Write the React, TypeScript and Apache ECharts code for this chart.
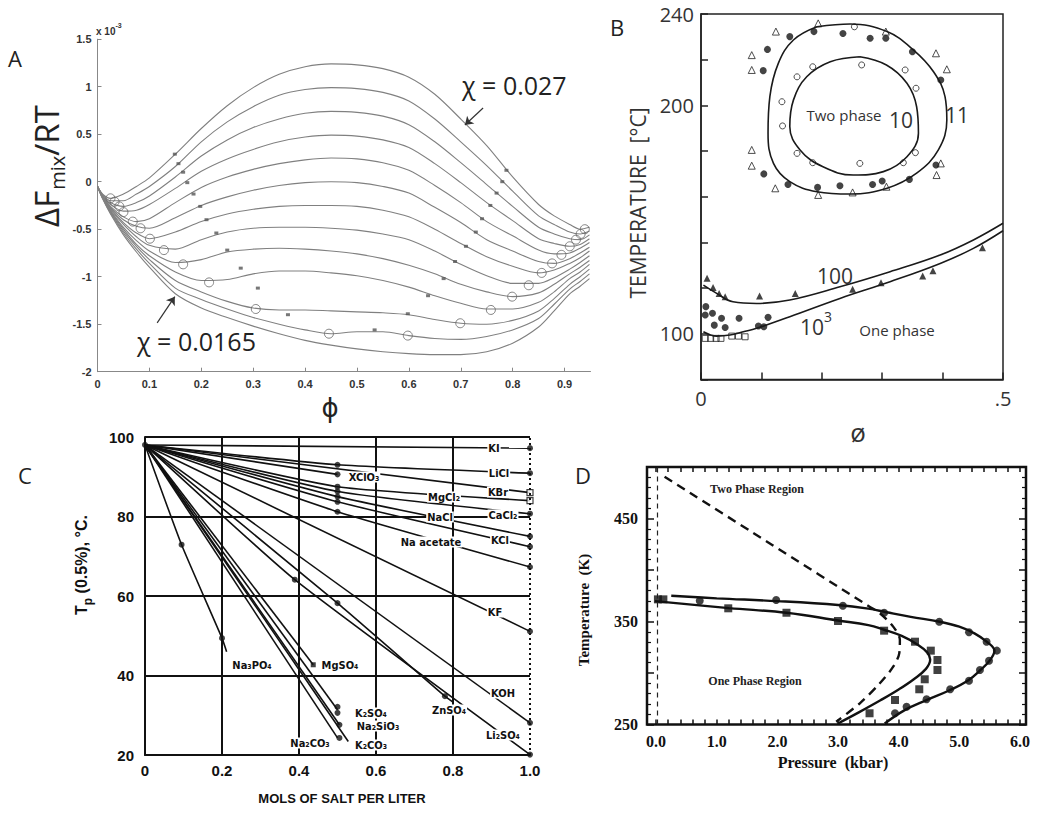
import React, { useEffect, useRef } from 'react';
import * as echarts from 'echarts';

// ================= Panel A : free energy of mixing curves =================
const A_PHI = [0, 0.01, 0.025, 0.05, 0.075, 0.1, 0.15, 0.2, 0.25, 0.3, 0.35, 0.4, 0.45, 0.5, 0.55, 0.6, 0.65, 0.7, 0.75, 0.8, 0.85, 0.88, 0.91, 0.93, 0.948];
const A_F00 = [-0.05, -0.13, -0.175, -0.13, -0.05, 0.04, 0.29, 0.56, 0.80, 0.99, 1.13, 1.21, 1.24, 1.23, 1.19, 1.10, 0.92, 0.66, 0.38, 0.05, -0.24, -0.36, -0.45, -0.50, -0.48]; // chi = 0.027
const A_F01 = [-0.05, -0.14, -0.20, -0.20, -0.13, -0.05, 0.16, 0.42, 0.63, 0.79, 0.91, 0.97, 0.99, 0.98, 0.94, 0.85, 0.66, 0.42, 0.17, -0.10, -0.36, -0.45, -0.53, -0.55, -0.52];
const A_F02 = [-0.05, -0.14, -0.22, -0.26, -0.22, -0.15, 0.05, 0.27, 0.44, 0.57, 0.66, 0.72, 0.74, 0.73, 0.69, 0.60, 0.42, 0.20, -0.03, -0.26, -0.48, -0.55, -0.60, -0.61, -0.56];
const A_F03 = [-0.05, -0.15, -0.24, -0.31, -0.30, -0.24, -0.07, 0.11, 0.24, 0.34, 0.42, 0.47, 0.49, 0.48, 0.44, 0.36, 0.19, -0.01, -0.22, -0.41, -0.60, -0.65, -0.68, -0.66, -0.60];
const A_F04 = [-0.05, -0.15, -0.26, -0.37, -0.42, -0.39, -0.22, -0.06, 0.05, 0.13, 0.19, 0.23, 0.25, 0.24, 0.20, 0.12, -0.04, -0.22, -0.42, -0.57, -0.72, -0.76, -0.75, -0.70, -0.64];
const A_F05 = [-0.05, -0.16, -0.27, -0.40, -0.47, -0.49, -0.38, -0.25, -0.16, -0.09, -0.04, -0.01, 0.0, -0.01, -0.05, -0.12, -0.27, -0.43, -0.61, -0.73, -0.84, -0.86, -0.81, -0.75, -0.69];
const A_F06 = [-0.05, -0.16, -0.28, -0.43, -0.54, -0.60, -0.53, -0.42, -0.34, -0.29, -0.26, -0.25, -0.25, -0.26, -0.30, -0.37, -0.50, -0.65, -0.79, -0.89, -0.96, -0.93, -0.86, -0.80, -0.73];
const A_F07 = [-0.05, -0.16, -0.29, -0.45, -0.58, -0.67, -0.71, -0.61, -0.53, -0.49, -0.48, -0.48, -0.49, -0.51, -0.55, -0.61, -0.73, -0.87, -0.99, -1.07, -1.07, -1.01, -0.92, -0.85, -0.78];
const A_F08 = [-0.05, -0.17, -0.30, -0.48, -0.62, -0.73, -0.85, -0.82, -0.74, -0.71, -0.70, -0.71, -0.73, -0.76, -0.81, -0.88, -0.97, -1.08, -1.16, -1.21, -1.17, -1.08, -0.97, -0.90, -0.83];
const A_F09 = [-0.05, -0.17, -0.31, -0.50, -0.66, -0.78, -0.95, -1.04, -1.03, -0.97, -0.94, -0.94, -0.96, -0.99, -1.04, -1.11, -1.20, -1.28, -1.34, -1.34, -1.27, -1.16, -1.02, -0.95, -0.87];
const A_F10 = [-0.05, -0.17, -0.32, -0.52, -0.68, -0.82, -1.04, -1.16, -1.26, -1.33, -1.35, -1.35, -1.36, -1.37, -1.38, -1.40, -1.45, -1.49, -1.50, -1.46, -1.36, -1.23, -1.08, -1.00, -0.92];
const A_F11 = [-0.05, -0.18, -0.33, -0.54, -0.71, -0.86, -1.12, -1.24, -1.34, -1.43, -1.50, -1.56, -1.60, -1.58, -1.58, -1.62, -1.65, -1.66, -1.63, -1.56, -1.44, -1.29, -1.13, -1.05, -0.97];
const A_F12 = [-0.05, -0.18, -0.34, -0.56, -0.74, -0.90, -1.18, -1.33, -1.43, -1.52, -1.60, -1.67, -1.72, -1.76, -1.79, -1.81, -1.82, -1.82, -1.79, -1.70, -1.53, -1.36, -1.18, -1.10, -1.02]; // chi = 0.0165
const A_CURVES = [A_F00, A_F01, A_F02, A_F03, A_F04, A_F05, A_F06, A_F07, A_F08, A_F09, A_F10, A_F11, A_F12];
const A_BIN_PHI = [0.025, 0.033, 0.042, 0.05, 0.068, 0.083, 0.101, 0.128, 0.165, 0.215, 0.305, 0.446, 0.939, 0.931, 0.922, 0.910, 0.894, 0.876, 0.856, 0.831, 0.799, 0.758, 0.699, 0.598];
const A_BIN_F = [-0.175, -0.21, -0.26, -0.32, -0.42, -0.49, -0.60, -0.72, -0.87, -1.06, -1.34, -1.60, -0.50, -0.55, -0.61, -0.68, -0.77, -0.86, -0.96, -1.09, -1.21, -1.35, -1.49, -1.62];
const A_SPI_PHI = [0.149, 0.156, 0.165, 0.173, 0.185, 0.198, 0.21, 0.229, 0.25, 0.276, 0.309, 0.367, 0.788, 0.78, 0.769, 0.757, 0.741, 0.729, 0.71, 0.689, 0.667, 0.637, 0.598, 0.534];
const A_SPI_F = [0.29, 0.19, 0.10, -0.01, -0.13, -0.26, -0.40, -0.54, -0.72, -0.91, -1.12, -1.40, 0.12, 0.0, -0.12, -0.25, -0.39, -0.53, -0.68, -0.84, -1.02, -1.20, -1.39, -1.56];
const A_X_TICKS = [0, 0.1, 0.2, 0.3, 0.4, 0.5, 0.6, 0.7, 0.8, 0.9];

// ================= Panel B : closed loop phase diagram =================
const B_OUT_PHI = [0.192, 0.247, 0.308, 0.352, 0.385, 0.404, 0.407, 0.393, 0.357, 0.308, 0.247, 0.192, 0.147, 0.12, 0.111, 0.114, 0.128, 0.153, 0.192];
const B_OUT_T = [234.4, 235.6, 232.3, 224.2, 214.7, 203.8, 193.6, 180.5, 170.3, 163.7, 161.2, 162.2, 166.6, 174.6, 187.8, 203.8, 218.4, 228.6, 234.4];
const B_IN_PHI = [0.263, 0.214, 0.175, 0.153, 0.147, 0.164, 0.202, 0.252, 0.302, 0.341, 0.36, 0.357, 0.341, 0.307, 0.263];
const B_IN_T = [221.3, 219.1, 212.5, 202.3, 190.7, 180.5, 173.1, 169.5, 171, 177.5, 187.8, 199.4, 209.7, 217.7, 221.3];
const B_UP_PHI = [0.004, 0.026, 0.053, 0.092, 0.147, 0.23, 0.313, 0.396, 0.451, 0.5];
const B_UP_T = [121.3, 117.7, 114, 113.3, 114.8, 120.6, 127.2, 134.5, 141.1, 148.4];
const B_LO_PHI = [0.004, 0.026, 0.048, 0.07, 0.092, 0.147, 0.23, 0.313, 0.396, 0.451, 0.5];
const B_LO_T = [100.9, 99.0, 99.5, 100.9, 102.4, 107.5, 115.5, 122.8, 130.8, 137.4, 145.1];
const B_DOT_PHI = [0.11, 0.103, 0.147, 0.187, 0.235, 0.28, 0.306, 0.35, 0.397, 0.104, 0.144, 0.193, 0.23, 0.284, 0.3, 0.345, 0.389, 0.008, 0.007, 0.019, 0.034, 0.022, 0.04, 0.063, 0.095, 0.104, 0.111];
const B_DOT_T = [224.5, 215.2, 230.1, 232.3, 231.5, 229.4, 229.4, 223.5, 211.1, 170, 165.4, 164.1, 164.8, 165.4, 166.9, 167.6, 173.9, 111.9, 108.2, 109, 106.8, 103.8, 102.8, 106.8, 103.4, 103.1, 107.2];
const B_OCIRC_PHI = [0.254, 0.159, 0.185, 0.266, 0.338, 0.356, 0.134, 0.135, 0.159, 0.185, 0.263, 0.335, 0.355];
const B_OCIRC_T = [234.4, 212.5, 216.9, 217.7, 215.5, 207.5, 201.6, 191, 179, 174.9, 174.6, 174.9, 179.3];
const B_OTRI_PHI = [0.124, 0.194, 0.306, 0.084, 0.084, 0.389, 0.407, 0.084, 0.084, 0.123, 0.194, 0.251, 0.307, 0.39, 0.397];
const B_OTRI_T = [232.3, 235.9, 232.3, 222, 215.5, 222.8, 215.8, 180.5, 173.6, 163.7, 160.8, 161.9, 164.4, 169.5, 174.6];
const B_FTRI_PHI = [0.01, 0.02, 0.03, 0.04, 0.097, 0.156, 0.251, 0.298, 0.367, 0.384, 0.466];
const B_FTRI_T = [124.3, 120.3, 117.7, 116.2, 116.5, 117.7, 119.5, 122.4, 125.3, 127.6, 137.7];
const B_OSQ_PHI = [0.007, 0.016, 0.025, 0.033, 0.051, 0.062, 0.073];
const B_OSQ_T = [98, 98, 98, 98, 99, 99, 98.7];

// ================= Panel C : cloud point vs salt =================
const C_X = [[0, 1], [0, 0.5, 1], [0, 0.5], [0, 1], [0, 0.5, 1], [0, 0.5, 1], [0, 0.5, 1], [0, 0.5, 1], [0, 0.5, 1], [0, 1], [0, 1], [0, 0.389, 1], [0, 0.5, 0.779, 0.8], [0, 0.095, 0.2, 0.212], [0, 0.437], [0, 0.5], [0, 0.505], [0, 0.5], [0, 0.528]];
const C_T = [[98, 97.2], [98, 93.0, 90.9], [98, 90.6], [98, 86.0], [98, 87.5, 84.0], [98, 86.3, 80.7], [98, 85.0, 75.0], [98, 83.7, 72.4], [98, 81.2, 67.3], [98, 51.1], [98, 28.1], [98, 64.1, 20.1], [98, 58.2, 34.8, 33.3], [98, 72.9, 49.4, 46], [98, 42.7], [98, 31.4], [98, 27.6], [98, 24.3], [98, 23.4]];
const C_DOT_X = [0, 0.095, 0.2, 0.389, 0.5, 0.779, 0.5, 0.5, 0.5, 0.5, 0.5, 0.5, 0.5, 0.5, 0.5, 0.505, 0.505, 1, 1, 1, 1, 1, 1, 1, 1, 1];
const C_DOT_T = [98, 72.9, 49.4, 64.1, 58.2, 34.8, 93.0, 90.6, 87.5, 86.3, 85.0, 83.7, 81.2, 32.1, 30.6, 27.6, 24.3, 97.2, 90.9, 80.7, 75.0, 72.4, 67.3, 51.1, 28.1, 20.1];
const C_SQ_X = [1, 1];
const C_SQ_T = [86.0, 84.0];
const C_MGSO4 = [0.437, 42.7];

// ================= Panel D : pressure dependence =================
const D_UP_P = [0.25, 1.0, 2.0, 3.0, 3.5, 3.8, 4.2, 4.68, 5.0, 5.25, 5.45, 5.58, 5.5, 5.35, 5.15, 4.85, 4.45, 4.1, 3.77];
const D_UP_T = [375, 372.5, 369.8, 366, 362.5, 359, 354.5, 349.8, 345, 338.5, 330.5, 321.5, 312, 303, 293, 283.5, 273.5, 264, 251];
const D_LO_P = [-0.02, 1.2, 2.15, 3.0, 3.5, 3.76, 4.05, 4.3, 4.47, 4.52, 4.45, 4.25, 4.0, 3.7, 3.35, 3.0];
const D_LO_T = [369.8, 363, 358.5, 351, 346.5, 342, 336, 328, 320, 313, 304, 294, 284, 273.5, 262, 251];
const D_DASH_P = [0.14, 1.83, 3.52, 3.69, 3.91, 4.02, 4.01, 3.91, 3.69, 3.36, 2.97];
const D_DASH_T = [490.6, 427.5, 364.4, 358, 345, 332, 319.1, 306.1, 290, 270.6, 252.7];
const D_CIR_P = [0.72, 1.98, 3.08, 3.76, 4.67, 5.16, 5.45, 5.62, 5.49, 5.34, 5.16, 4.85, 4.46, 4.13, 3.94];
const D_CIR_T = [370.2, 370.9, 365.3, 358.5, 349.8, 339.5, 330.4, 321.7, 311.9, 302.9, 292.5, 284.2, 274.5, 267.3, 260.9];
const D_SQ_P = [0.03, 0.12, 1.19, 2.15, 3.0, 3.76, 4.27, 4.53, 4.64, 4.64, 4.43, 4.34, 3.94, 3.52];
const D_SQ_T = [371.5, 371.5, 362.8, 358.5, 350.5, 341.1, 330.4, 321.7, 312.6, 302.9, 293.9, 284.2, 273.8, 260.9];
const D_X_MAJOR = [0, 1, 2, 3, 4, 5, 6];
const D_X_MINOR = [0, 0.2, 0.4, 0.6, 0.8, 1, 1.2, 1.4, 1.6, 1.8, 2, 2.2, 2.4, 2.6, 2.8, 3, 3.2, 3.4, 3.6, 3.8, 4, 4.2, 4.4, 4.6, 4.8, 5, 5.2, 5.4, 5.6, 5.8, 6];

// ---------------- helpers & styles ----------------
const SANS = '"Open Sans", "Noto Sans", sans-serif';
const ARIAL = '"Liberation Sans", Arial, sans-serif';
const SERIF = '"Liberation Serif", "Times New Roman", serif';
const COND = '"DejaVu Sans Condensed", "DejaVu Sans", sans-serif';

const pairs = (xs: number[], ys: number[]) => xs.map((x, i) => [x, ys[i]]);

const txt = (x: number, y: number, text: string, s: any = {}, rotation = 0) => ({
  type: 'text', x, y, rotation, z: 50,
  style: {
    text, fill: s.fill || '#222', fontSize: s.fontSize || 14, fontFamily: s.fontFamily || SANS,
    fontWeight: s.fontWeight || 'normal', align: s.align || 'center', verticalAlign: s.va || 'middle',
    rich: s.rich, backgroundColor: s.bg, padding: s.padding,
  },
});

const C_LABELS: [string, number, number][] = [
  ['KI', 494, 448], ['LiCl', 499, 473], ['KBr', 498, 492], ['CaCl₂', 503, 515], ['KCl', 500, 540],
  ['MgCl₂', 444, 497], ['NaCl', 440, 517], ['Na acetate', 431, 542], ['XClO₃', 364, 477],
  ['KF', 495, 612], ['KOH', 503, 693], ['ZnSO₄', 449, 710], ['Li₂SO₄', 503, 735],
  ['Na₃PO₄', 252, 665], ['MgSO₄', 340, 665], ['K₂SO₄', 371, 713], ['Na₂SiO₃', 378, 726],
  ['Na₂CO₃', 310, 743], ['K₂CO₃', 371, 745],
];

function buildOption() {
  const series: any[] = [];

  // ---- A ----
  A_CURVES.forEach((c, i) => {
    const s: any = {
      type: 'line', xAxisIndex: 0, yAxisIndex: 0, data: pairs(A_PHI, c), smooth: 0.3,
      symbol: 'none', lineStyle: { color: '#808080', width: 1.1 }, silent: true, z: 2,
    };
    if (i === 0) {
      s.markLine = {
        silent: true, symbol: ['none', 'arrow'], symbolSize: 8, label: { show: false },
        lineStyle: { color: '#333', width: 1.2, type: 'solid' },
        data: [
          [{ coord: [0.743, 0.776] }, { coord: [0.708, 0.597] }],
          [{ coord: [0.115, -1.486] }, { coord: [0.149, -1.21] }],
        ],
      };
    }
    series.push(s);
  });
  series.push({
    type: 'scatter', xAxisIndex: 0, yAxisIndex: 0, data: pairs(A_BIN_PHI, A_BIN_F), symbol: 'circle', symbolSize: 9,
    itemStyle: { color: 'rgba(0,0,0,0)', borderColor: '#666', borderWidth: 1 }, z: 3,
  });
  series.push({
    type: 'scatter', xAxisIndex: 0, yAxisIndex: 0, data: pairs(A_SPI_PHI, A_SPI_F), symbol: 'rect', symbolSize: [4, 3],
    itemStyle: { color: '#555' }, z: 3,
  });

  // ---- B ----
  const bLine = (xs: number[], ys: number[]) => ({
    type: 'line', xAxisIndex: 1, yAxisIndex: 1, data: pairs(xs, ys), smooth: 0.4, symbol: 'none',
    lineStyle: { color: '#1a1a1a', width: 1.6 }, silent: true,
  });
  series.push(bLine(B_OUT_PHI, B_OUT_T), bLine(B_IN_PHI, B_IN_T), bLine(B_UP_PHI, B_UP_T), bLine(B_LO_PHI, B_LO_T));
  const bSc = (xs: number[], ys: number[], symbol: string, size: number, filled: boolean) => ({
    type: 'scatter', xAxisIndex: 1, yAxisIndex: 1, data: pairs(xs, ys), symbol, symbolSize: size,
    itemStyle: filled ? { color: '#151515' } : { color: 'rgba(0,0,0,0)', borderColor: '#222', borderWidth: 1 },
  });
  series.push(
    bSc(B_DOT_PHI, B_DOT_T, 'circle', 7, true),
    bSc(B_OCIRC_PHI, B_OCIRC_T, 'circle', 6, false),
    bSc(B_OTRI_PHI, B_OTRI_T, 'triangle', 7, false),
    bSc(B_FTRI_PHI, B_FTRI_T, 'triangle', 7, true),
    bSc(B_OSQ_PHI, B_OSQ_T, 'rect', 6, false),
  );

  // ---- C ----
  C_X.forEach((xs, i) => {
    const s: any = {
      type: 'line', xAxisIndex: 2, yAxisIndex: 2, data: pairs(xs, C_T[i]), smooth: 0.15, symbol: 'none',
      lineStyle: { color: '#111', width: 1.6 }, silent: true, z: 3,
    };
    if (i === 0) {
      s.markLine = {
        silent: true, symbol: 'none', label: { show: false },
        lineStyle: { color: '#111', width: 2, type: [2, 3] },
        data: [{ xAxis: 1 }],
      };
    }
    series.push(s);
  });
  series.push({
    type: 'scatter', xAxisIndex: 2, yAxisIndex: 2, data: pairs(C_DOT_X, C_DOT_T), symbol: 'circle', symbolSize: 6,
    itemStyle: { color: '#111' }, z: 4,
  });
  series.push({
    type: 'scatter', xAxisIndex: 2, yAxisIndex: 2, data: pairs(C_SQ_X, C_SQ_T), symbol: 'rect', symbolSize: 6,
    itemStyle: { color: '#fff', borderColor: '#111', borderWidth: 1.2 }, z: 4,
  });
  series.push({
    type: 'scatter', xAxisIndex: 2, yAxisIndex: 2, data: [C_MGSO4], symbol: 'rect', symbolSize: 5,
    itemStyle: { color: '#111' }, z: 4,
  });

  // ---- D ----
  series.push({
    type: 'line', xAxisIndex: 3, yAxisIndex: 3, data: pairs(D_UP_P, D_UP_T), smooth: 0.4, symbol: 'none',
    lineStyle: { color: '#111', width: 2.4 }, silent: true,
    markLine: {
      silent: true, symbol: 'none', label: { show: false },
      lineStyle: { color: '#222', width: 1.2, type: [5, 4] }, data: [{ xAxis: 0.02 }],
    },
  });
  series.push({
    type: 'line', xAxisIndex: 3, yAxisIndex: 3, data: pairs(D_LO_P, D_LO_T), smooth: 0.4, symbol: 'none',
    lineStyle: { color: '#111', width: 2.4 }, silent: true,
  });
  series.push({
    type: 'line', xAxisIndex: 3, yAxisIndex: 3, data: pairs(D_DASH_P, D_DASH_T), smooth: 0.3, symbol: 'none',
    lineStyle: { color: '#111', width: 2.4, type: [9, 6] }, silent: true,
  });
  series.push({
    type: 'scatter', xAxisIndex: 3, yAxisIndex: 3, data: pairs(D_CIR_P, D_CIR_T), symbol: 'circle', symbolSize: 8,
    itemStyle: { color: '#111' },
  });
  series.push({
    type: 'scatter', xAxisIndex: 3, yAxisIndex: 3, data: pairs(D_SQ_P, D_SQ_T), symbol: 'rect', symbolSize: 8,
    itemStyle: { color: '#111' },
  });

  const noSplit = { show: false };

  const xAxis: any[] = [
    { // A
      gridIndex: 0, type: 'value', min: 0, max: 0.95,
      axisLine: { show: true, onZero: false, lineStyle: { color: '#888', width: 1 } },
      axisTick: { show: true, inside: true, length: 4, customValues: A_X_TICKS, lineStyle: { color: '#888' } },
      axisLabel: { customValues: A_X_TICKS, fontSize: 11, fontWeight: 'bold', fontFamily: ARIAL, color: '#333', margin: 7, formatter: (v: number) => String(v) },
      splitLine: noSplit,
    },
    { // B
      gridIndex: 1, type: 'value', min: 0, max: 0.5, interval: 0.1,
      axisLine: { show: true, onZero: false, lineStyle: { color: '#222', width: 1.5 } },
      axisTick: { show: true, inside: true, length: 7, lineStyle: { color: '#222', width: 1.5 } },
      axisLabel: { fontSize: 20, fontFamily: SANS, color: '#333', margin: 9, formatter: (v: number) => (v === 0 ? '0' : Math.abs(v - 0.5) < 1e-9 ? '.5' : '') },
      splitLine: noSplit,
    },
    { // C
      gridIndex: 2, type: 'value', min: 0, max: 1, interval: 0.2,
      axisLine: { show: true, onZero: false, lineStyle: { color: '#111', width: 2 } },
      axisTick: { show: false },
      axisLabel: { fontSize: 15, fontWeight: 'bold', fontFamily: ARIAL, color: '#111', margin: 8, formatter: (v: number) => (v === 0 ? '0' : v.toFixed(1)) },
      splitLine: { show: true, showMaxLine: false, lineStyle: { color: '#111', width: 2 } },
    },
    { // D bottom
      gridIndex: 3, type: 'value', min: -0.15, max: 6.1, position: 'bottom',
      axisLine: { show: false, onZero: false },
      axisTick: { show: true, inside: true, length: 5, customValues: D_X_MINOR, lineStyle: { color: '#111', width: 1.5 } },
      axisLabel: { customValues: D_X_MAJOR, fontSize: 16, fontWeight: 'bold', fontFamily: SERIF, color: '#111', margin: 9, formatter: (v: number) => v.toFixed(1) },
      splitLine: noSplit,
    },
    { // D top
      gridIndex: 3, type: 'value', min: -0.15, max: 6.1, position: 'top',
      axisLine: { show: false, onZero: false },
      axisTick: { show: true, inside: true, length: 5, customValues: D_X_MINOR, lineStyle: { color: '#111', width: 1.5 } },
      axisLabel: { show: false }, splitLine: noSplit,
    },
  ];

  const yAxis: any[] = [
    { // A
      gridIndex: 0, type: 'value', min: -2, max: 1.5, interval: 0.5,
      axisLine: { show: true, onZero: false, lineStyle: { color: '#888', width: 1 } },
      axisTick: { show: true, inside: true, length: 4, lineStyle: { color: '#888' } },
      axisLabel: { fontSize: 11, fontWeight: 'bold', fontFamily: ARIAL, color: '#333', margin: 6 },
      splitLine: noSplit,
    },
    { // B
      gridIndex: 1, type: 'value', min: 80, max: 240, interval: 20,
      axisLine: { show: true, onZero: false, lineStyle: { color: '#222', width: 1.5 } },
      axisTick: { show: true, inside: true, length: 7, lineStyle: { color: '#222', width: 1.5 } },
      axisLabel: { fontSize: 20, fontFamily: SANS, color: '#333', margin: 7, formatter: (v: number) => (v === 240 || v === 200 || v === 100 ? String(v) : '') },
      splitLine: noSplit,
    },
    { // C
      gridIndex: 2, type: 'value', min: 20, max: 100, interval: 20,
      axisLine: { show: true, onZero: false, lineStyle: { color: '#111', width: 2 } },
      axisTick: { show: false },
      axisLabel: { fontSize: 15, fontWeight: 'bold', fontFamily: ARIAL, color: '#111', margin: 11 },
      splitLine: { show: true, lineStyle: { color: '#111', width: 2 } },
    },
    { // D left
      gridIndex: 3, type: 'value', min: 250, max: 500, interval: 50, position: 'left',
      axisLine: { show: false, onZero: false },
      axisTick: { show: true, inside: true, length: 7, lineStyle: { color: '#111', width: 1.5 } },
      minorTick: { show: true, splitNumber: 5, length: 4, lineStyle: { color: '#111', width: 1.2 } },
      axisLabel: { fontSize: 16, fontWeight: 'bold', fontFamily: SERIF, color: '#111', margin: 9, formatter: (v: number) => (v === 250 || v === 350 || v === 450 ? String(v) : '') },
      splitLine: noSplit,
    },
    { // D right
      gridIndex: 3, type: 'value', min: 250, max: 500, interval: 50, position: 'right',
      axisLine: { show: false, onZero: false },
      axisTick: { show: true, inside: true, length: 7, lineStyle: { color: '#111', width: 1.5 } },
      minorTick: { show: true, splitNumber: 5, length: 4, lineStyle: { color: '#111', width: 1.2 } },
      axisLabel: { show: false }, splitLine: noSplit,
    },
  ];

  const graphics: any[] = [
    // A
    txt(15, 58, 'A', { fontSize: 22 }),
    {
      type: 'text', x: 96, y: 28, z: 50,
      style: {
        text: '{a|x 10}{b|-3}', fill: '#333', align: 'left', verticalAlign: 'middle',
        rich: {
          a: { fontSize: 10, fontWeight: 'bold', fontFamily: ARIAL, lineHeight: 12, padding: [4, 0, 0, 0], verticalAlign: 'top' },
          b: { fontSize: 7, fontWeight: 'bold', fontFamily: ARIAL, lineHeight: 8, verticalAlign: 'top' },
        },
      },
    },
    {
      type: 'text', x: 47, y: 166, rotation: Math.PI / 2, z: 50,
      style: {
        text: '{a|ΔF}{s|mix}{a|/RT}', fill: '#222', align: 'center', verticalAlign: 'middle',
        rich: {
          a: { fontSize: 33, fontFamily: SANS, lineHeight: 34, verticalAlign: 'top' },
          s: { fontSize: 20, fontFamily: SANS, lineHeight: 20, padding: [17, 0, 0, 1], verticalAlign: 'top' },
        },
      },
    },
    txt(330, 408, 'ϕ', { fontSize: 26, fontFamily: '"DejaVu Sans", sans-serif' }),
    txt(462, 85, 'χ = 0.027', { fontSize: 25, align: 'left' }),
    txt(137, 341, 'χ = 0.0165', { fontSize: 25, align: 'left' }),
    // B
    txt(617, 27, 'B', { fontSize: 22 }),
    txt(638, 203, 'TEMPERATURE  [°C]', { fontSize: 21, fill: '#333' }, Math.PI / 2),
    txt(858, 432, 'ø', { fontSize: 26, fill: '#333' }),
    txt(844, 115, 'Two phase', { fontSize: 15, fill: '#333' }),
    txt(901, 120, '10', { fontSize: 21, fill: '#333' }),
    txt(957, 115, '11', { fontSize: 21, fill: '#333' }),
    txt(835, 276, '100', { fontSize: 21, fill: '#333' }),
    {
      type: 'text', x: 800, y: 320, z: 50,
      style: {
        text: '{a|10}{b|3}', fill: '#333', align: 'left', verticalAlign: 'middle',
        rich: {
          a: { fontSize: 21, fontFamily: SANS, lineHeight: 22, padding: [7, 0, 0, 0], verticalAlign: 'top' },
          b: { fontSize: 14, fontFamily: SANS, lineHeight: 16, verticalAlign: 'top' },
        },
      },
    },
    txt(897, 330, 'One phase', { fontSize: 15, fill: '#333' }),
    // C
    txt(25, 475, 'C', { fontSize: 22 }),
    {
      type: 'text', x: 82, y: 565, rotation: Math.PI / 2, z: 50,
      style: {
        text: '{a|T}{s|p}{a| (0.5%), °C.}', fill: '#111', align: 'center', verticalAlign: 'middle',
        rich: {
          a: { fontSize: 16, fontWeight: 'bold', fontFamily: ARIAL, lineHeight: 18, verticalAlign: 'top' },
          s: { fontSize: 12, fontWeight: 'bold', fontFamily: ARIAL, lineHeight: 12, padding: [9, 0, 0, 0], verticalAlign: 'top' },
        },
      },
    },
    txt(342, 798, 'MOLS OF SALT PER LITER', { fontSize: 13, fontWeight: 'bold', fontFamily: ARIAL, fill: '#111' }),
    ...C_LABELS.map(([t, x, y]) => txt(x, y, t, { fontSize: 11, fontWeight: 'bold', fontFamily: COND, fill: '#111', bg: '#fff', padding: [0, 1] })),
    // D
    txt(583, 475, 'D', { fontSize: 22 }),
    txt(584, 610, 'Temperature  (K)', { fontSize: 15, fontWeight: 'bold', fontFamily: SERIF, fill: '#111' }, Math.PI / 2),
    txt(833, 762, 'Pressure  (kbar)', { fontSize: 16, fontWeight: 'bold', fontFamily: SERIF, fill: '#111' }),
    txt(757, 489, 'Two Phase Region', { fontSize: 12, fontWeight: 'bold', fontFamily: SERIF, fill: '#222' }),
    txt(755, 681, 'One Phase Region', { fontSize: 12, fontWeight: 'bold', fontFamily: SERIF, fill: '#222' }),
  ];

  return {
    animation: false,
    backgroundColor: '#fff',
    grid: [
      { left: 97.5, top: 39.2, width: 493, height: 332.5 },
      { left: 701, top: 14, width: 302, height: 365.5, show: true, borderColor: '#222', borderWidth: 1.5, backgroundColor: 'transparent' },
      { left: 145, top: 437, width: 385, height: 318 },
      { left: 647, top: 467, width: 379, height: 257.5, show: true, borderColor: '#111', borderWidth: 2.5, backgroundColor: 'transparent' },
    ],
    xAxis, yAxis, series,
    graphic: { elements: graphics },
  };
}

export default function App() {
  const ref = useRef<HTMLDivElement>(null);
  useEffect(() => {
    if (!ref.current) return;
    const chart = echarts.init(ref.current, undefined, { renderer: 'svg' });
    chart.setOption(buildOption() as any);
    return () => chart.dispose();
  }, []);
  return <div ref={ref} style={{ position: 'absolute', left: 0, top: 0, width: 1050, height: 815, background: '#fff' }} />;
}
